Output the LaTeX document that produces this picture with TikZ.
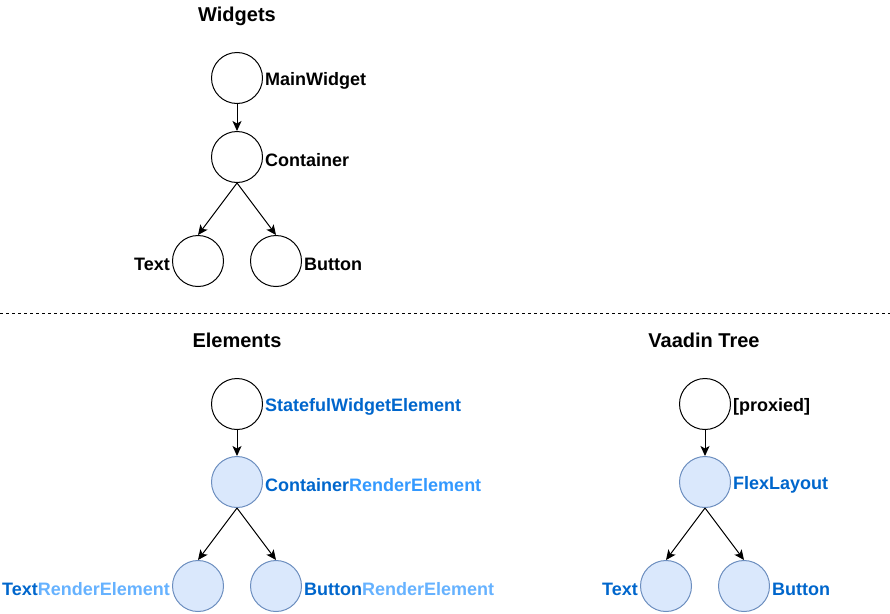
\documentclass[tikz,border=0pt]{standalone}
\usepackage{fontspec}
\setmainfont{Liberation Sans}
\usetikzlibrary{arrows.meta}
\definecolor{darkblue}{HTML}{0066CC}
\definecolor{midblue}{HTML}{3399FF}
\definecolor{paleblue}{HTML}{66B2FF}
\definecolor{fillblue}{HTML}{DAE8FC}
\definecolor{lineblue}{HTML}{6C8EBF}

\begin{document}
\begin{tikzpicture}[x=1pt,y=-1pt,
  circ/.style={circle,draw=black,line width=1pt,minimum size=51pt,inner sep=0pt},
  bluecirc/.style={circ,draw=lineblue,fill=fillblue},
  lbl/.style={font=\bfseries\fontsize{18}{18}\selectfont,inner sep=0pt},
  ttl/.style={font=\bfseries\fontsize{20}{20}\selectfont,inner sep=0pt},
  arr/.style={-{Stealth[length=10pt,width=9pt,inset=2.5pt]},line width=1pt}]
\useasboundingbox (0,0) rectangle (890,613);
% widgets
\node[ttl] (wtitle) at (237,16) {Widgets};
\node[circ] (wmain) at (237,78) {};
\node[circ] (wcont) at (237,157) {};
\node[circ] (wtext) at (198,261) {};
\node[circ] (wbutton) at (276,261) {};
\node[lbl,anchor=west] (wmainl) at ([xshift=2pt,yshift=-3pt]wmain.east) {MainWidget};
\node[lbl,anchor=west] (wcontl) at ([xshift=2pt,yshift=-3pt]wcont.east) {Container};
\node[lbl,anchor=east] (wtextl) at ([xshift=-2pt,yshift=-3pt]wtext.west) {Text};
\node[lbl,anchor=west] (wbuttonl) at ([xshift=2pt,yshift=-3pt]wbutton.east) {Button};
\draw[arr] (wmain) -- (wcont);
\draw[arr] (wcont.south) -- (wtext.north);
\draw[arr] (wcont.south) -- (wbutton.north);
% separator
\draw[line width=1pt,dash pattern=on 3pt off 3pt] (0,313) -- (890,313);
% elements
\node[ttl] (etitle) at (237,340) {Elements};
\node[circ] (estate) at (237,404) {};
\node[bluecirc] (econt) at (237,482) {};
\node[bluecirc] (etext) at (198,586) {};
\node[bluecirc] (ebutton) at (276,586) {};
\node[lbl,anchor=west,text=darkblue] (estatel) at ([xshift=2pt,yshift=-3pt]estate.east) {StatefulWidgetElement};
\node[lbl,anchor=west] (econtl) at ([xshift=2pt,yshift=-3pt]econt.east) {\textcolor{darkblue}{Container}\textcolor{midblue}{RenderElement}};
\node[lbl,anchor=east] (etextl) at ([xshift=-2pt,yshift=-3pt]etext.west) {\textcolor{darkblue}{Text}\textcolor{paleblue}{RenderElement}};
\node[lbl,anchor=west] (ebuttonl) at ([xshift=2pt,yshift=-3pt]ebutton.east) {\textcolor{darkblue}{Button}\textcolor{paleblue}{RenderElement}};
\draw[arr] (estate) -- (econt);
\draw[arr] (econt.south) -- (etext.north);
\draw[arr] (econt.south) -- (ebutton.north);
% vaadin tree
\node[ttl] (vtitle) at (704,340) {Vaadin Tree};
\node[circ] (vproxy) at (705,404) {};
\node[bluecirc] (vflex) at (705,482) {};
\node[bluecirc] (vtext) at (666,586) {};
\node[bluecirc] (vbutton) at (744,586) {};
\node[lbl,anchor=west] (vproxyl) at ([xshift=2pt,yshift=-3pt]vproxy.east) {[proxied]};
\node[lbl,anchor=west,text=darkblue] (vflexl) at ([xshift=2pt,yshift=-3pt]vflex.east) {FlexLayout};
\node[lbl,anchor=east,text=darkblue] (vtextl) at ([xshift=-2pt,yshift=-3pt]vtext.west) {Text};
\node[lbl,anchor=west,text=darkblue] (vbuttonl) at ([xshift=2pt,yshift=-3pt]vbutton.east) {Button};
\draw[arr] (vproxy) -- (vflex);
\draw[arr] (vflex.south) -- (vtext.north);
\draw[arr] (vflex.south) -- (vbutton.north);
\end{tikzpicture}
\end{document}
